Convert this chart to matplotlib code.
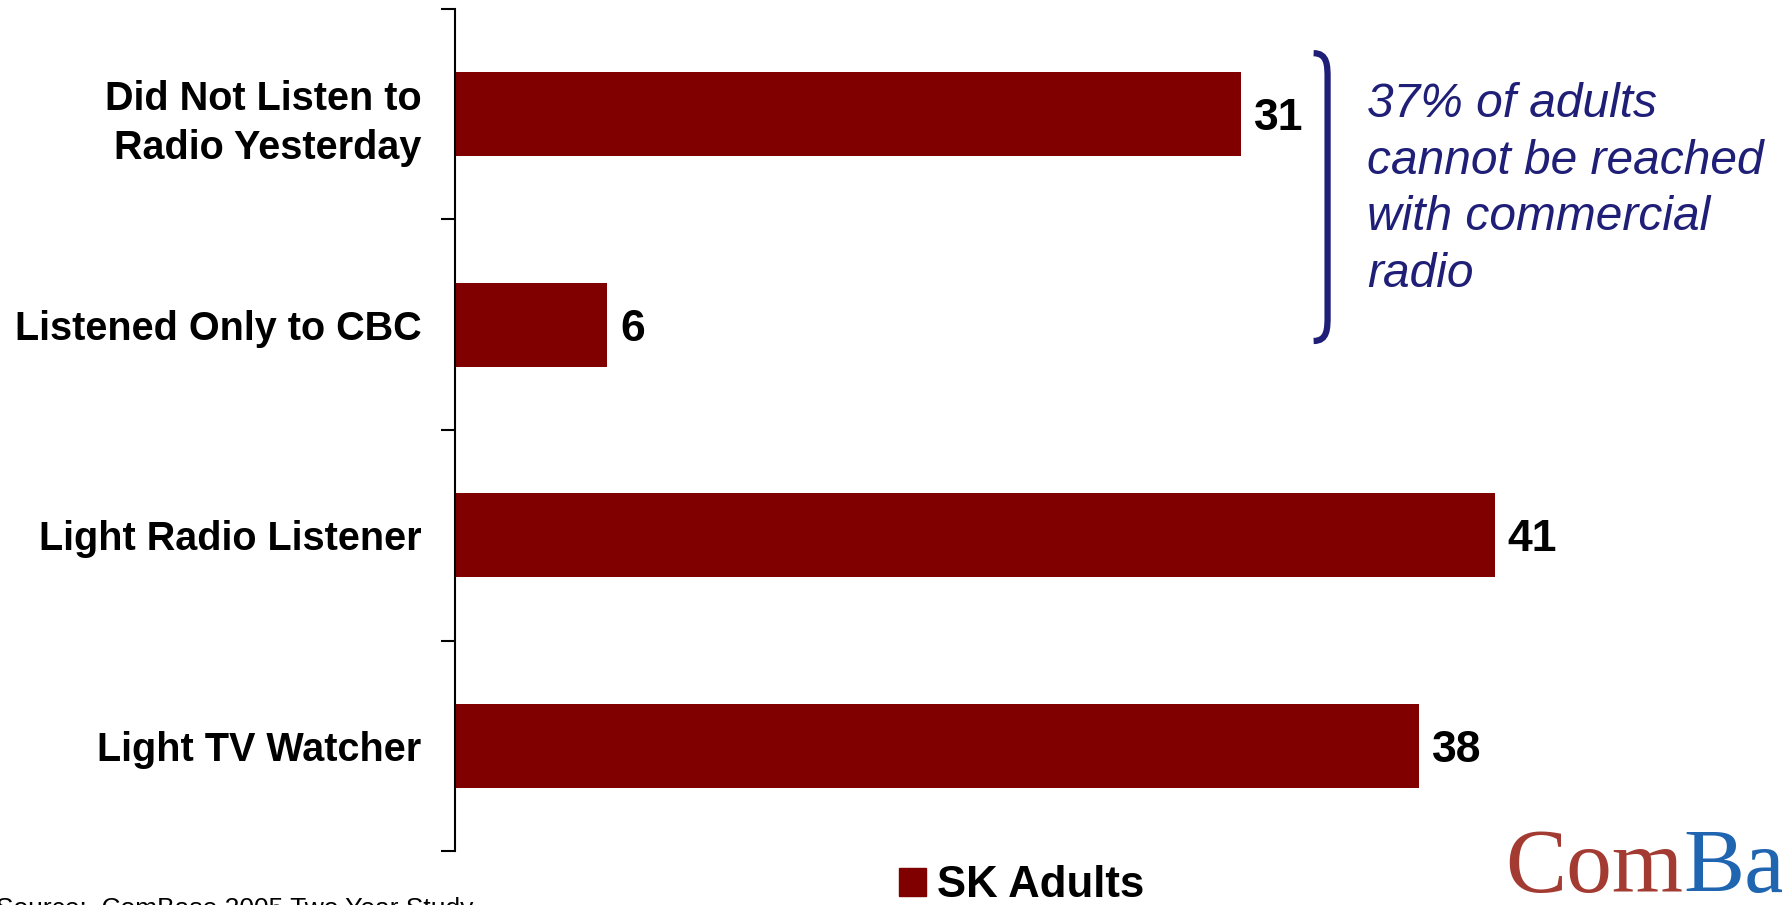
import numpy as np
import matplotlib
matplotlib.use("Agg")
import matplotlib.pyplot as plt
from matplotlib.path import Path
from matplotlib.patches import PathPatch, Patch

# data
categories = ["Did Not Listen to\nRadio Yesterday", "Listened Only to CBC",
              "Light Radio Listener", "Light TV Watcher"]
values = [31, 6, 41, 38]
series_name = "SK Adults"
note = "37% of adults\ncannot be reached\nwith commercial\nradio"
source = "Source:  ComBase 2005 Two Year Study"

bar_col = "#800000"
navy = "#1f1f78"

plt.rcParams["font.family"] = ["Liberation Sans", "DejaVu Sans"]

fig = plt.figure(figsize=(17.83, 9.05), dpi=100)
ax = fig.add_axes([455 / 1783, 54 / 905, 1319 / 1783, 842 / 905])

y = np.arange(len(categories))
ax.barh(y, values, height=0.4, color=bar_col, label=series_name)
ax.set_xlim(0, 52)
ax.set_ylim(3.5, -0.5)

for yi, v in zip(y, values):
    ax.text(v + 0.5, yi, str(v), va="center_baseline", ha="left",
            fontsize=32, fontweight="bold", color="black")

ax.set_yticks(y)
ax.set_yticklabels(categories, fontsize=28.5, fontweight="bold", linespacing=1.35)
ax.tick_params(axis="y", which="major", length=0, pad=24)
ax.set_yticks(np.arange(-0.5, len(categories)), minor=True)
ax.tick_params(axis="y", which="minor", length=10, width=1.5, direction="out")
ax.set_xticks([])
for s in ["top", "right", "bottom"]:
    ax.spines[s].set_visible(False)
ax.spines["left"].set_linewidth(1.5)

# bracket round the first two bars
x0, x1 = 33.85, 34.4
yt, yb = -0.29, 1.077
verts = [(x0, yt), (x1, yt), (x1, yt + 0.06), (x1, yt + 0.12),
         (x1, yb - 0.12),
         (x1, yb - 0.06), (x1, yb), (x0, yb)]
codes = [Path.MOVETO, Path.CURVE4, Path.CURVE4, Path.CURVE4,
         Path.LINETO,
         Path.CURVE4, Path.CURVE4, Path.CURVE4]
ax.add_patch(PathPatch(Path(verts, codes), fill=False, edgecolor=navy,
                       linewidth=4.5, capstyle="butt"))

fig.text(1367 / 1783, 1 - 82 / 905, note, ha="left", va="top", fontsize=34.5,
         style="italic", color=navy, linespacing=1.33)

# legend
fig.legend(handles=[Patch(color=bar_col, label=series_name)], loc="lower left",
           bbox_to_anchor=(860 / 1783, -0.045), frameon=False,
           prop={"weight": "bold", "size": 31.5}, handlelength=0.6,
           handleheight=0.6, handletextpad=0.25)

fig.text(-0.002, -0.012, source, ha="left", va="baseline", fontsize=19)

# logo
fig.text(1505 / 1783, 13 / 905, "Com", ha="left", va="baseline",
         fontsize=66, family="Liberation Serif", color="#a33b32")
fig.text(1683 / 1783, 13 / 905, "Base", ha="left", va="baseline",
         fontsize=66, family="Liberation Serif", color="#1f65b0")
fig.text(1510 / 1783, -0.012, "COMMUNITY NEWSPAPERS - DEFINING LOCAL",
         ha="left", va="baseline", fontsize=11, fontweight="bold",
         color="#a33b32")

fig.savefig("out.png", dpi=100)
